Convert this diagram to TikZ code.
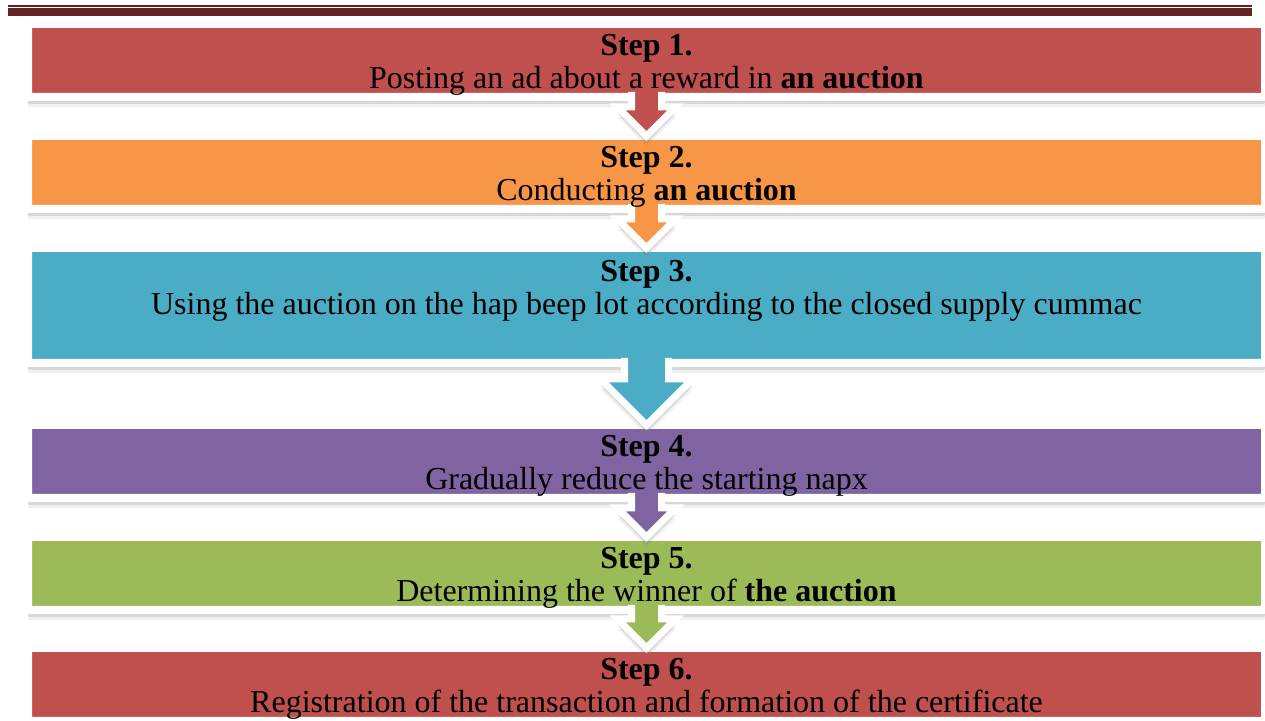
\documentclass[tikz,border=0pt]{standalone}
\usepackage{fontspec}
\setmainfont{Liberation Serif}
\usetikzlibrary{shadows}
\definecolor{kopf}{HTML}{622423}
\definecolor{stufeRot}{HTML}{C0504D}
\definecolor{stufeOrange}{HTML}{F79646}
\definecolor{stufeBlau}{HTML}{4BACC6}
\definecolor{stufeLila}{HTML}{8064A2}
\definecolor{stufeGruen}{HTML}{9BBB59}
\begin{document}
\begin{tikzpicture}[x=0.5pt,y=-0.5pt,
	schatten/.style={drop shadow={shadow xshift=0pt,shadow yshift=-5pt,opacity=0.12},
		drop shadow={shadow xshift=0pt,shadow yshift=-3.5pt,opacity=0.22}},
	stufe/.style={rectangle,fill=#1,draw=white,line width=4pt,rounded corners=1pt,
		minimum width=618.5pt,minimum height=36.5pt,anchor=north,inner sep=0pt,
		outer sep=0pt,schatten},
	stufentext/.style={anchor=north,align=center,inner sep=0pt,
		font=\fontsize{16}{16.5}\selectfont}]
\useasboundingbox (0,0) rectangle (1265,721);

% Kopfzeile
\draw[kopf,line width=1pt] (8,6.5)--(1252,6.5);
\fill[kopf] (8,8.5) rectangle (1252,16.5);

\node[stufe=stufeRot] (s1) at (646.5,24) {};
\node[stufe=stufeOrange] (s2) at (646.5,136) {};
\node[stufe=stufeBlau,minimum height=57.5pt] (s3) at (646.5,248) {};
\node[stufe=stufeLila] (s4) at (646.5,425) {};
\node[stufe=stufeGruen] (s5) at (646.5,537) {};
\node[stufe=stufeRot] (s6) at (646.5,648) {};

\def\pfeil#1#2#3#4#5{%
\filldraw[fill=#3,draw=white,line width=3.5pt,line join=miter,schatten]
	([xshift=-#4,yshift=2.5pt]#1.south) |- ([xshift=-#5,yshift=#5]#2.north)
	-- (#2.north) -- ([xshift=#5,yshift=#5]#2.north)
	-| ([xshift=#4,yshift=2.5pt]#1.south);
}

\pfeil{s1}{s2}{stufeRot}{7.5pt}{14.5pt}
\pfeil{s2}{s3}{stufeOrange}{7.5pt}{14.5pt}
\pfeil{s3}{s4}{stufeBlau}{11pt}{23pt}
\pfeil{s4}{s5}{stufeLila}{7.5pt}{14.5pt}
\pfeil{s5}{s6}{stufeGruen}{7.5pt}{14.5pt}

\node[stufentext] (t1) at ([yshift=-5pt]s1.north)
	{\textbf{Step 1.}\\Posting an ad about a reward in \textbf{an auction}};
\node[stufentext] (t2) at ([yshift=-5pt]s2.north)
	{\textbf{Step 2.}\\Conducting \textbf{an auction}};
\node[stufentext] (t3) at ([yshift=-6pt]s3.north)
	{\textbf{Step 3.}\\Using the auction on the hap beep lot according to the closed supply cummac};
\node[stufentext] (t4) at ([yshift=-5pt]s4.north)
	{\textbf{Step 4.}\\Gradually reduce the starting napx};
\node[stufentext] (t5) at ([yshift=-5pt]s5.north)
	{\textbf{Step 5.}\\Determining the winner of \textbf{the auction}};
\node[stufentext] (t6) at ([yshift=-5pt]s6.north)
	{\textbf{Step 6.}\\Registration of the transaction and formation of the certificate};

\end{tikzpicture}
\end{document}
